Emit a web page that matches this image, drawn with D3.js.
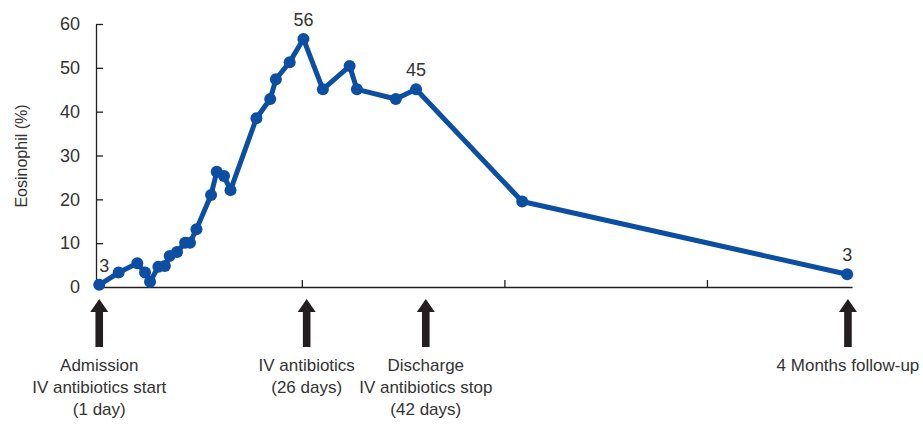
<!DOCTYPE html>
<html>
<head>
<meta charset="utf-8">
<script src="https://cdn.jsdelivr.net/npm/d3@7"></script>
<style>
  body { margin: 0; background: #fff; }
  svg text { font-family: "Liberation Sans", Arial, sans-serif; fill: #333; }
</style>
</head>
<body>
<svg id="chart" width="923" height="425"></svg>
<script>
var width = 923,
   height = 425;

// days since admission (x) and eosinophil % (y)
var days = [1, 3.4, 5.7, 6.65, 7.27, 8.3, 9.1, 9.7, 10.6, 11.6, 12.2, 13.0,
   14.8, 15.5, 16.4, 17.2, 20.4, 22.1, 22.8, 24.5, 26.2, 28.6, 31.9, 32.8,
   37.6, 40.1, 53.2, 93.3];
var eosinophil = [0.5, 3.3, 5.4, 3.3, 1.2, 4.6, 4.8, 7.1, 8.0, 10.1, 10.1, 13.2,
   21.0, 26.3, 25.3, 22.1, 38.5, 42.9, 47.4, 51.3, 56.6, 45.1, 50.4, 45.1,
   42.9, 45.1, 19.5, 2.9];

// labelled points (index into arrays) and their text
var labelIdx = [0, 20, 25, 27];
var labelText = ["3", "56", "45", "3"];

// events shown with arrows under the axis
var eventDays = [1, 26.6, 41.3, 93.4];
var eventLines = [
   ["Admission", "IV antibiotics start", "(1 day)"],
   ["IV antibiotics", "(26 days)"],
   ["Discharge", "IV antibiotics stop", "(42 days)"],
   ["4 Months follow-up"]
];

var xTicks = [26, 51, 76];
var yTicks = [0, 10, 20, 30, 40, 50, 60];

var svg = d3.select("svg#chart");

var x = d3.scaleLinear().domain([0.6, 93.9]).range([96, 852]);
var y = d3.scaleLinear().domain([0, 60]).range([287, 24]);

// axes
var yAxis = svg.append("g")
   .attr("transform", "translate(96,0)")
   .call(d3.axisLeft(y).tickValues(yTicks).tickSizeInner(-7).tickSizeOuter(0).tickPadding(16));
yAxis.selectAll("text").style("font-size", "18px").attr("fill", "#333");

var xAxis = svg.append("g")
   .attr("transform", "translate(0,287)")
   .call(d3.axisBottom(x).tickValues(xTicks).tickSizeInner(-7).tickSizeOuter(0).tickFormat(""));

svg.selectAll(".domain, .tick line").attr("stroke", "#231f20").attr("stroke-width", 1.3);

// y title
svg.append("text")
   .attr("transform", "translate(27,156) rotate(-90)")
   .attr("text-anchor", "middle")
   .style("font-size", "16px")
   .text("Eosinophil (%)");

// line + dots
var points = days.map(function (d, i) { return [d, eosinophil[i]]; });

var line = d3.line()
   .x(function (d) { return x(d[0]); })
   .y(function (d) { return y(d[1]); });

svg.append("path")
   .datum(points)
   .attr("fill", "none")
   .attr("stroke", "#0c4ea2")
   .attr("stroke-width", 5)
   .attr("stroke-linejoin", "round")
   .attr("d", line);

svg.selectAll("circle.pt")
   .data(points)
   .enter()
   .append("circle")
   .attr("class", "pt")
   .attr("cx", function (d) { return x(d[0]); })
   .attr("cy", function (d) { return y(d[1]); })
   .attr("r", 6)
   .attr("fill", "#0c4ea2");

// value labels
svg.selectAll("text.val")
   .data(labelIdx)
   .enter()
   .append("text")
   .attr("class", "val")
   .attr("x", function (d, i) { return x(days[d]) + (i === 0 ? 5 : 0); })
   .attr("y", function (d) { return y(eosinophil[d]) - 13; })
   .attr("text-anchor", "middle")
   .style("font-size", "18px")
   .text(function (d, i) { return labelText[i]; });

// event arrows + captions
var ev = svg.selectAll("g.event")
   .data(eventDays)
   .enter()
   .append("g")
   .attr("class", "event")
   .attr("transform", function (d) { return "translate(" + x(d) + ",0)"; });

ev.append("path")
   .attr("d", "M0,299 L9,312 L3.8,312 L3.8,347 L-3.8,347 L-3.8,312 L-9,312 Z")
   .attr("fill", "#231f20");

ev.each(function (d, i) {
   var g = d3.select(this);
   eventLines[i].forEach(function (t, j) {
      g.append("text")
         .attr("y", 371 + j * 22)
         .attr("text-anchor", "middle")
         .style("font-size", "17px")
         .text(t);
   });
});
</script>
</body>
</html>
